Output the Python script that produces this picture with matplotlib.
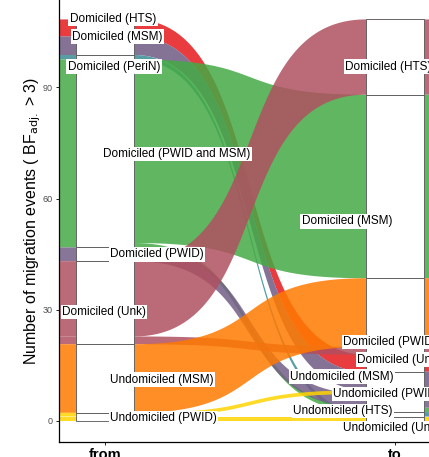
import numpy as np
import matplotlib.pyplot as plt
from matplotlib.patches import Polygon, Rectangle

plt.rcParams['font.family'] = ['Liberation Sans', 'DejaVu Sans']

# strata on each axis, top to bottom
from_strata = ['Domiciled (HTS)', 'Domiciled (MSM)', 'Domiciled (PeriN)',
               'Domiciled (PWID and MSM)', 'Domiciled (PWID)', 'Domiciled (Unk)',
               'Undomiciled (MSM)', 'Undomiciled (PWID)']
to_strata = ['Domiciled (HTS)', 'Domiciled (MSM)', 'Domiciled (PWID)', 'Domiciled (Unk)',
             'Undomiciled (MSM)', 'Undomiciled (PWID)', 'Undomiciled (HTS)',
             'Undomiciled (Unk)']

# migration flows: source, sink, number of events
flow_from = ['Domiciled (HTS)', 'Domiciled (MSM)', 'Domiciled (PeriN)',
             'Domiciled (PWID and MSM)', 'Domiciled (PWID and MSM)', 'Domiciled (PWID)',
             'Domiciled (Unk)', 'Domiciled (Unk)', 'Undomiciled (MSM)',
             'Undomiciled (PWID)', 'Undomiciled (PWID)']
flow_to = ['Domiciled (Unk)', 'Undomiciled (MSM)', 'Undomiciled (HTS)',
           'Domiciled (MSM)', 'Undomiciled (PWID)', 'Undomiciled (PWID)',
           'Domiciled (HTS)', 'Domiciled (Unk)', 'Domiciled (PWID)',
           'Undomiciled (PWID)', 'Undomiciled (Unk)']
flow_n = [4.6, 5.0, 1.2, 49.5, 1.2, 3.7, 20.3, 2.1, 18.5, 1.0, 1.2]

colors = {
    'Domiciled (HTS)': '#E41A1C',
    'Domiciled (MSM)': '#6E5A82',
    'Domiciled (PeriN)': '#3A8C94',
    'Domiciled (PWID and MSM)': '#45AA45',
    'Domiciled (PWID)': '#735E86',
    'Domiciled (Unk)': '#B05060',
    'Undomiciled (MSM)': '#FF7A00',
    'Undomiciled (PWID)': '#FFD400',
}

# label placement (data coords, left edge of text)
from_lab_xy = [(0.879, 108.4), (0.886, 103.6), (0.872, 95.5), (0.993, 72.0),
               (1.017, 45.0), (0.852, 29.4), (1.017, 11.1), (1.017, 0.8)]
to_lab_xy = [(1.828, 95.5), (1.679, 53.9), (1.821, 21.3), (1.869, 16.5),
             (1.638, 11.9), (1.786, 7.3), (1.648, 2.7), (1.821, -1.9)]

n_flows = len(flow_n)
total = sum(flow_n)


def stack(strata, key, order_key):
    # y extents of each flow inside its stratum, strata stacked from the top
    pos = {}
    top = total
    bounds = []
    for s in strata:
        idx = [i for i in range(n_flows) if key[i] == s]
        idx.sort(key=order_key)
        s_top = top
        for i in idx:
            pos[i] = (top, top - flow_n[i])
            top -= flow_n[i]
        bounds.append((s_top, top))
    return pos, bounds


# on the "from" side lodes follow the destination order,
# on the "to" side they come in reverse source order
from_pos, from_bounds = stack(from_strata, flow_from, lambda i: to_strata.index(flow_to[i]))
to_pos, to_bounds = stack(to_strata, flow_to, lambda i: -from_strata.index(flow_from[i]))

fig = plt.figure(figsize=(4.29, 4.57), dpi=100)
ax = fig.add_axes([59 / 429, 15.5 / 457, 382 / 429, 441.5 / 457])

w = 0.1      # half width of a stratum
ext = 0.2    # half width of an alluvium
k = 0.6
s = np.linspace(0, 1, 120)
bx = 3 * k * s * (1 - s) ** 2 + 3 * (1 - k) * s ** 2 * (1 - s) + s ** 3
by = 3 * s ** 2 * (1 - s) + s ** 3
x0, x1 = 1 + w, 2 - w
xs = np.concatenate([[1 - ext], x0 + (x1 - x0) * bx, [2 + ext]])

for i in range(n_flows):
    (a_top, a_bot), (b_top, b_bot) = from_pos[i], to_pos[i]
    top = np.concatenate([[a_top], a_top + (b_top - a_top) * by, [b_top]])
    bot = np.concatenate([[a_bot], a_bot + (b_bot - a_bot) * by, [b_bot]])
    verts = np.vstack([np.column_stack([xs, top]), np.column_stack([xs[::-1], bot[::-1]])])
    ax.add_patch(Polygon(verts, closed=True, facecolor=colors[flow_from[i]],
                         edgecolor='none', alpha=0.85, zorder=1))

for xc, bounds in [(1, from_bounds), (2, to_bounds)]:
    for t, b in bounds:
        ax.add_patch(Rectangle((xc - w, b), 2 * w, t - b, facecolor='white',
                               edgecolor='#555555', lw=0.6, zorder=2))

lab_box = dict(boxstyle='square,pad=0.12', facecolor='white', edgecolor='none')
for name, (lx, ly) in zip(from_strata, from_lab_xy):
    ax.text(lx, ly, name, ha='left', va='center', fontsize=8.5, bbox=lab_box, zorder=3)
for name, (lx, ly) in zip(to_strata, to_lab_xy):
    ax.text(lx, ly, name, ha='left', va='center', fontsize=8.5, bbox=lab_box, zorder=3,
            clip_on=False)

ax.set_xlim(1 - 46 / 290, 2 + 46 / 290)
ax.set_ylim(-20.5 / 3.708, 421 / 3.708)
ax.set_xticks([1, 2])
ax.set_xticklabels(['from', 'to'], fontsize=10.5, fontweight='bold')
ax.set_yticks([0, 30, 60, 90])
ax.tick_params(axis='y', labelsize=6.5, labelcolor='#4D4D4D', length=2.5, width=0.6, pad=2)
ax.tick_params(axis='x', length=2.5, width=0.6, pad=2)
for side in ['top', 'right']:
    ax.spines[side].set_visible(False)
for side in ['left', 'bottom']:
    ax.spines[side].set_linewidth(0.9)
ax.set_ylabel(r'Number of migration events ( BF$_{\mathrm{adj.}}$ > 3)', fontsize=11.5,
              labelpad=-0.5)

fig.savefig('out.png', dpi=100)
